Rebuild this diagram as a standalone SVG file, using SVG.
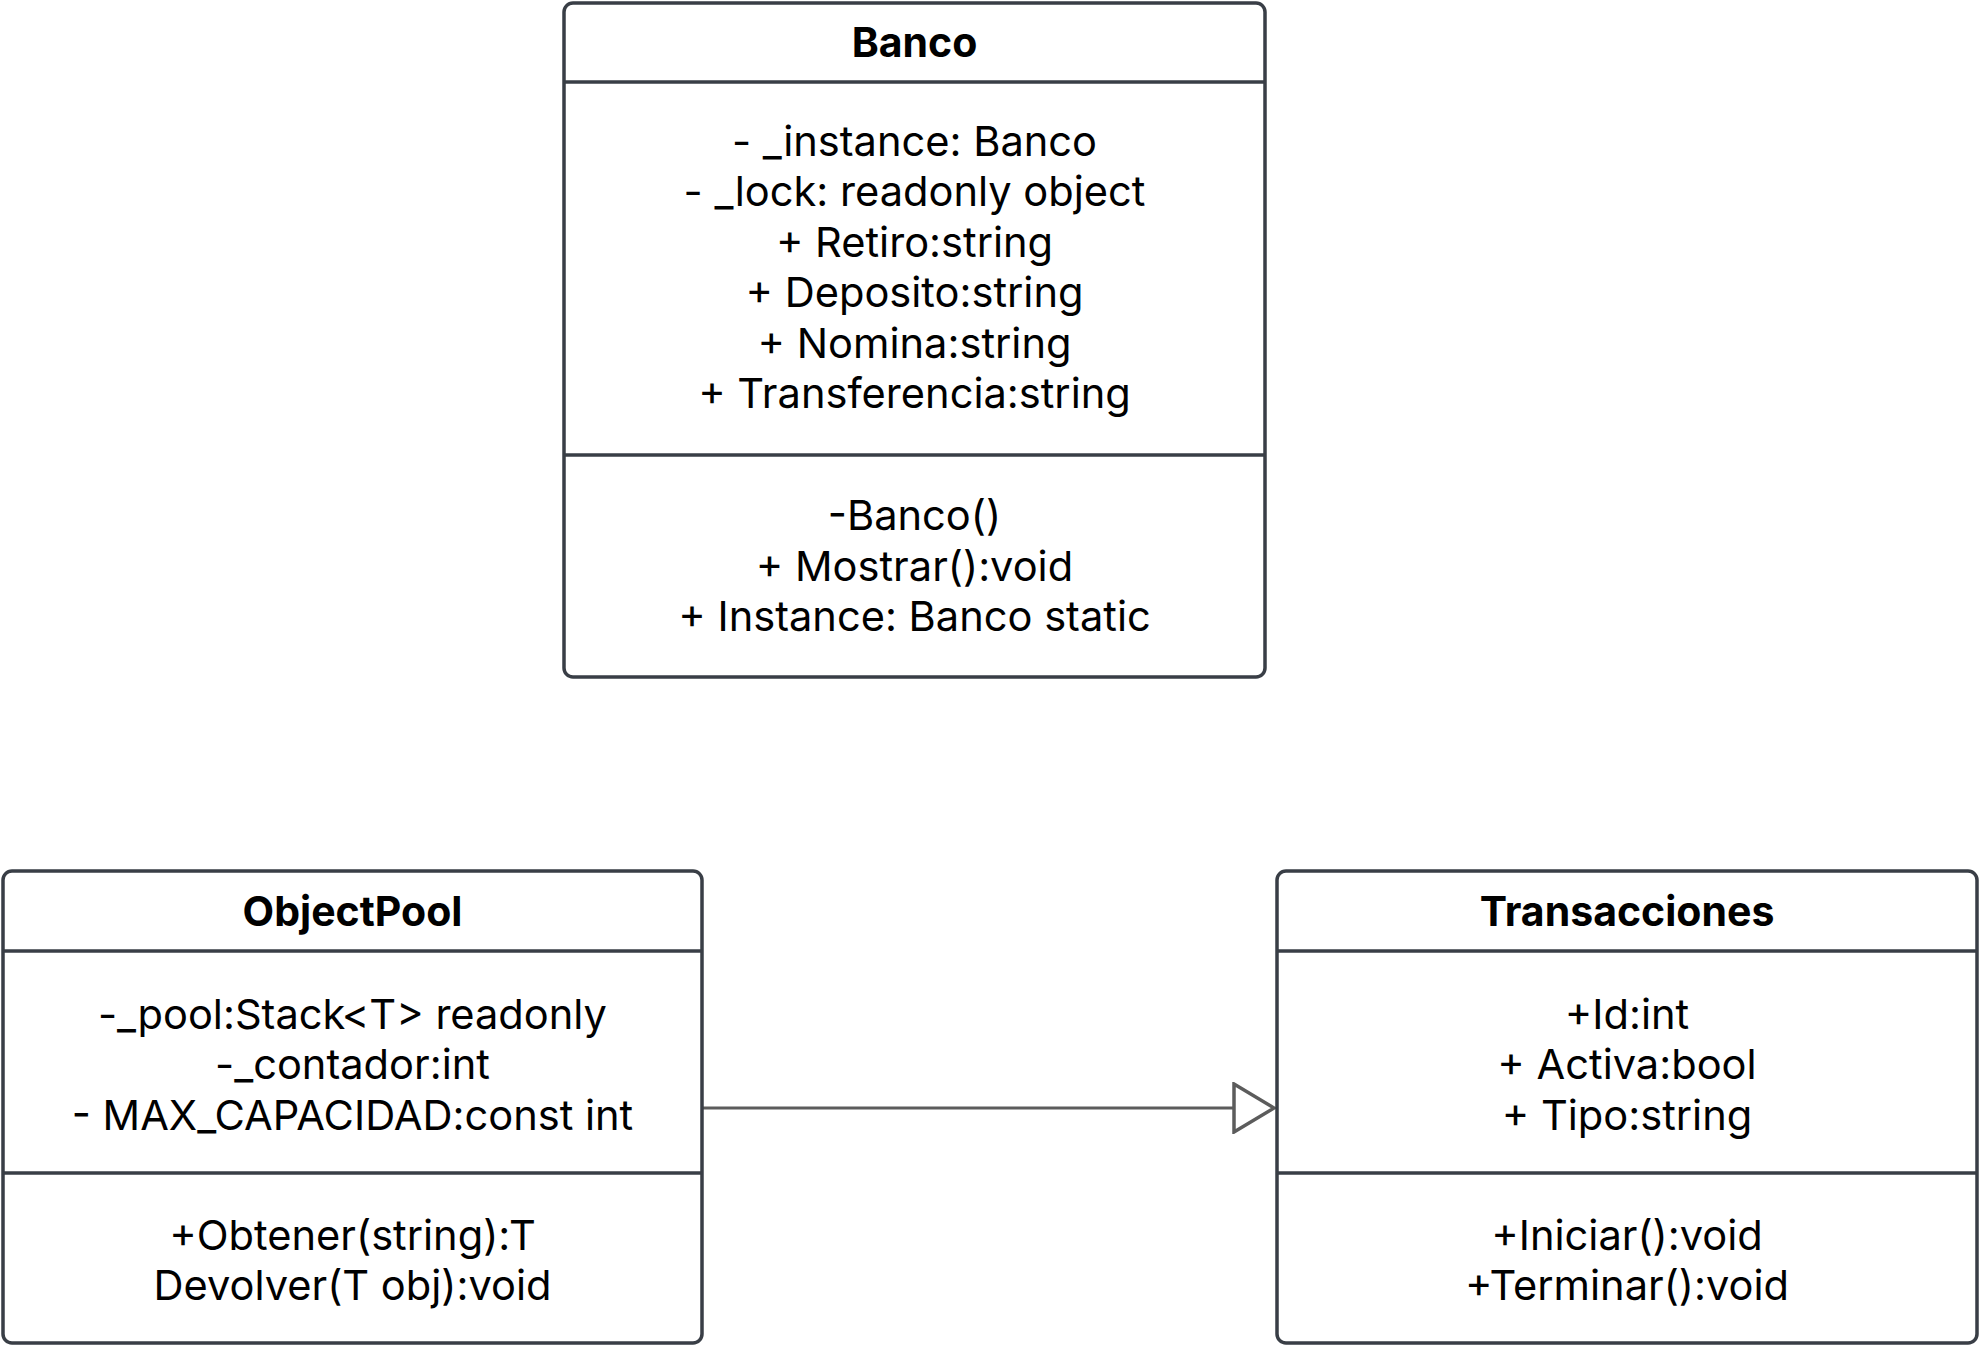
<svg xmlns="http://www.w3.org/2000/svg" width="1980" height="1346" viewBox="0 0 1980 1346">
<style>
.box{fill:#ffffff;stroke:#393e46;stroke-width:3.5}
.sep{stroke:#393e46;stroke-width:3.5}
.t{font-family:Inter,"Noto Sans","Liberation Sans",sans-serif;font-size:41.6px;fill:#000000;text-anchor:middle}
.h{font-weight:bold;font-size:41px}
.conn{stroke:#5c5c5c;stroke-width:3;fill:none}
</style>
<defs>
<marker id="tri" viewBox="0 0 44 52" refX="42" refY="26" markerWidth="44" markerHeight="52" markerUnits="userSpaceOnUse" orient="auto">
<path d="M2,2 L42,26 L2,50 Z" fill="#ffffff" stroke="#5c5c5c" stroke-width="3.5"/>
</marker>
</defs>
<rect width="1980" height="1346" fill="#ffffff"/>
<g id="connectors">
<line class="conn" x1="702" y1="1108" x2="1274" y2="1108" marker-end="url(#tri)"/>
</g>
<g id="banco">
<rect class="box" x="564" y="3" width="701" height="674" rx="9"/>
<line class="sep" x1="564" y1="82" x2="1265" y2="82"/>
<line class="sep" x1="564" y1="455" x2="1265" y2="455"/>
<text class="t h" x="914.5" y="57">Banco</text>
<text class="t" x="914.5" y="155.5">- _instance: Banco</text>
<text class="t" x="914.5" y="206">- _lock: readonly object</text>
<text class="t" x="914.5" y="256.5">+ Retiro:string</text>
<text class="t" x="914.5" y="307">+ Deposito:string</text>
<text class="t" x="914.5" y="357.5">+ Nomina:string</text>
<text class="t" x="914.5" y="408">+ Transferencia:string</text>
<text class="t" x="914.5" y="530">-Banco()</text>
<text class="t" x="914.5" y="580.5">+ Mostrar():void</text>
<text class="t" x="914.5" y="631">+ Instance: Banco static</text>
</g>
<g id="objectpool">
<rect class="box" x="3" y="871" width="699" height="472" rx="9"/>
<line class="sep" x1="3" y1="951" x2="702" y2="951"/>
<line class="sep" x1="3" y1="1173" x2="702" y2="1173"/>
<text class="t h" x="352.5" y="926">ObjectPool</text>
<text class="t" x="352.5" y="1028.5">-_pool:Stack&lt;T&gt; readonly</text>
<text class="t" x="352.5" y="1079">-_contador:int</text>
<text class="t" x="352.5" y="1129.5">- MAX_CAPACIDAD:const int</text>
<text class="t" x="352.5" y="1249.5">+Obtener(string):T</text>
<text class="t" x="352.5" y="1300">Devolver(T obj):void</text>
</g>
<g id="transacciones">
<rect class="box" x="1277" y="871" width="700" height="472" rx="9"/>
<line class="sep" x1="1277" y1="951" x2="1977" y2="951"/>
<line class="sep" x1="1277" y1="1173" x2="1977" y2="1173"/>
<text class="t h" x="1627" y="926">Transacciones</text>
<text class="t" x="1627" y="1028.5">+Id:int</text>
<text class="t" x="1627" y="1079">+ Activa:bool</text>
<text class="t" x="1627" y="1129.5">+ Tipo:string</text>
<text class="t" x="1627" y="1249.5">+Iniciar():void</text>
<text class="t" x="1627" y="1300">+Terminar():void</text>
</g>
</svg>
